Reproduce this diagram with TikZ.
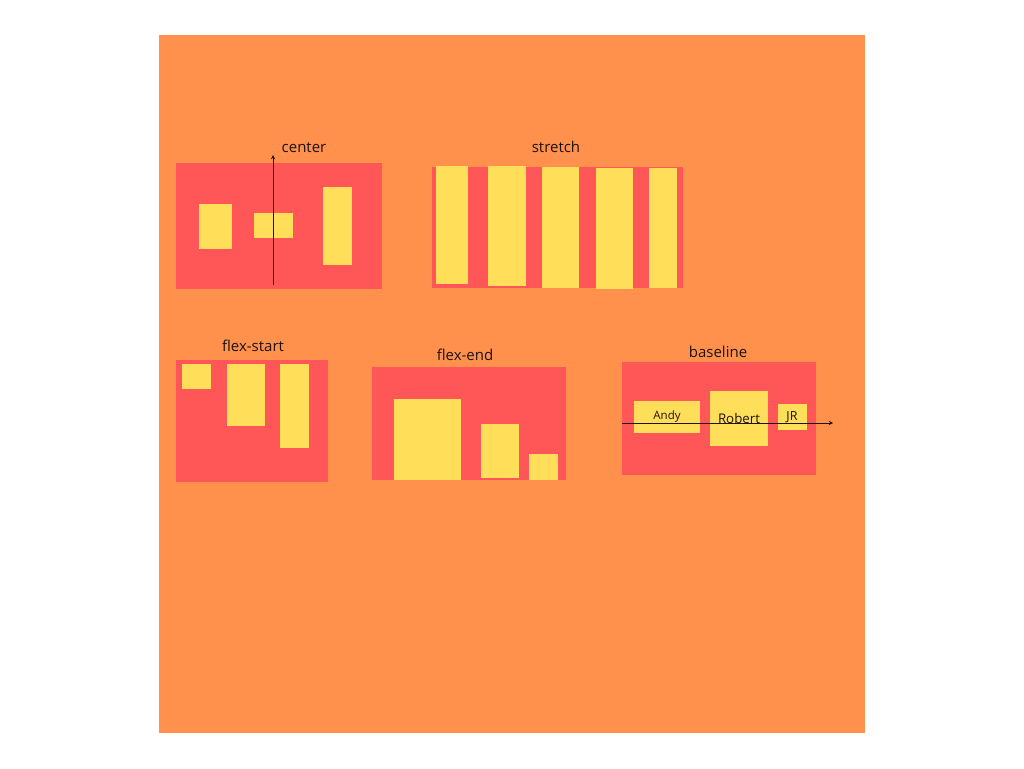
\documentclass[tikz,border=0pt]{standalone}
\usepackage{fontspec}
\setmainfont{Open Sans}
\definecolor{bgorange}{HTML}{FF914D}
\definecolor{boxred}{HTML}{FF5757}
\definecolor{itemyellow}{HTML}{FFDE59}
\definecolor{txt}{HTML}{1E1212}
\begin{document}
\begin{tikzpicture}[x=1pt,y=-1pt,
  panel/.style={fill=boxred},
  item/.style={fill=itemyellow},
  title/.style={text=txt,font=\fontsize{15}{17}\selectfont,inner sep=0pt},
  itemtext/.style={text=txt,inner sep=0pt},
  axis/.style={draw=txt,line width=0.9pt,-stealth}]
\useasboundingbox (0,0) rectangle (1024,768);
\fill[white] (0,0) rectangle (1024,768);
\fill[bgorange] (159,35) rectangle (865,733);
% center
\fill[panel] (176,163) rectangle (382,289);
\fill[item] (199,204) rectangle (232,249);
\fill[item] (254,213) rectangle (293,238);
\fill[item] (323,187) rectangle (352,265);
\coordinate (cA) at (273,285);
\coordinate (cB) at (273,155);
\draw[axis] (cA) -- (cB);
\node[title] (tcenter) at (304,148) {center};
% stretch
\fill[panel] (432,167) rectangle (683,288);
\fill[item] (436,166) rectangle (468,284);
\fill[item] (488,166) rectangle (526,286);
\fill[item] (542,167) rectangle (579,288);
\fill[item] (596,168) rectangle (633,289);
\fill[item] (649,168) rectangle (677,288);
\node[title] (tstretch) at (556,147) {stretch};
% flex-start
\fill[panel] (176,360) rectangle (328,482);
\fill[item] (182,364) rectangle (211,389);
\fill[item] (227,364) rectangle (265,426);
\fill[item] (280,364) rectangle (309,448);
\node[title] (tstart) at (253,346) {flex-start};
% flex-end
\fill[panel] (372,367) rectangle (566,480);
\fill[item] (394,399) rectangle (461,480);
\fill[item] (481,424) rectangle (519,478);
\fill[item] (529,454) rectangle (558,480);
\node[title] (tend) at (465,355) {flex-end};
% baseline
\fill[panel] (622,362) rectangle (816,475);
\fill[item] (634,401) rectangle (700,433);
\fill[item] (710,391) rectangle (768,446);
\fill[item] (778,404) rectangle (807,430);
\node[itemtext,font=\fontsize{11.5}{13}\selectfont] (andy) at (667,417) {Andy};
\node[itemtext,font=\fontsize{13.3}{15}\selectfont] (robert) at (739,419) {Robert};
\node[itemtext,font=\fontsize{12.5}{14}\selectfont] (jr) at (792,417) {JR};
\coordinate (bA) at (622,423);
\coordinate (bB) at (833,423);
\draw[axis] (bA) -- (bB);
\node[title] (tbase) at (718,352) {baseline};
\end{tikzpicture}
\end{document}
